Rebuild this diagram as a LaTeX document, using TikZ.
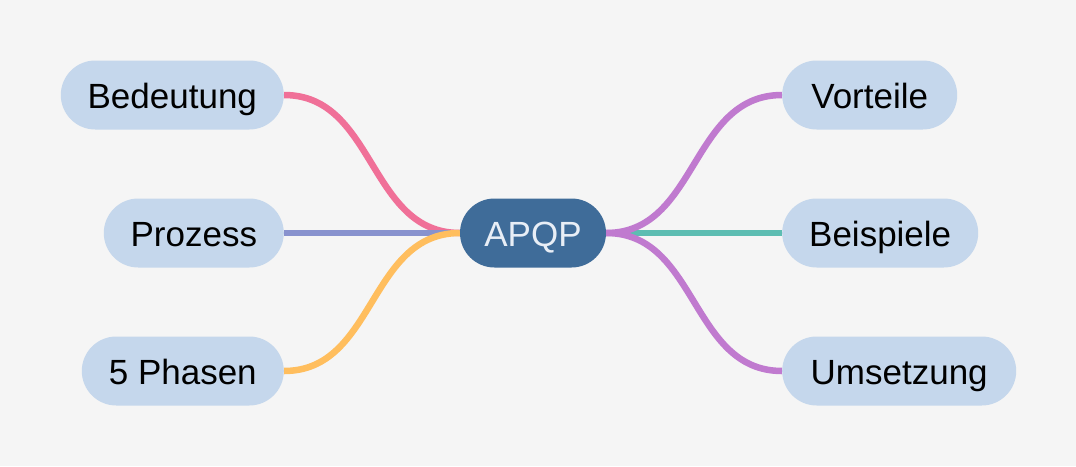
\documentclass[tikz,border=0pt]{standalone}
\usepackage{fontspec}
\setmainfont{Liberation Sans}
\usetikzlibrary{backgrounds}
\definecolor{bgc}{HTML}{F5F5F5}
\definecolor{leaf}{HTML}{C5D7EC}
\definecolor{rootc}{HTML}{3F6C99}
\definecolor{roottext}{HTML}{E8EEF6}
\definecolor{cpink}{HTML}{F07098}
\definecolor{clav}{HTML}{8892CE}
\definecolor{corange}{HTML}{FFBE5E}
\definecolor{cpurple}{HTML}{C07ACF}
\definecolor{cteal}{HTML}{5DBDB2}
\tikzset{
  leafbox/.style={fill=leaf, rounded corners=34.5pt, minimum height=69pt, inner sep=0pt,
    text height=26pt, text depth=0pt, font=\fontsize{35pt}{40pt}\selectfont, text=black},
  rootbox/.style={fill=rootc, rounded corners=34.5pt, minimum height=69pt, minimum width=146pt, inner sep=0pt,
    text height=26pt, text depth=0pt, font=\fontsize{35pt}{40pt}\selectfont, text=roottext},
  link/.style={line width=6.5pt, out=0, in=180, looseness=1.05},
}
\begin{document}
\begin{tikzpicture}[x=1pt,y=-1pt]
\useasboundingbox (0,0) rectangle (1076,466);
\node[rootbox] (root) at (533,233) {APQP};
\node[leafbox, minimum width=223pt, anchor=east] (bed) at (284,95) {Bedeutung};
\node[leafbox, minimum width=180pt, anchor=east] (pro) at (284,233) {Prozess};
\node[leafbox, minimum width=202pt, anchor=east] (pha) at (284,371) {5 Phasen};
\node[leafbox, minimum width=175pt, anchor=west] (vor) at (782,95) {Vorteile};
\node[leafbox, minimum width=196pt, anchor=west] (bei) at (782,233) {Beispiele};
\node[leafbox, minimum width=234pt, anchor=west] (ums) at (782,371) {Umsetzung};
\begin{scope}[on background layer]
\fill[bgc] (0,0) rectangle (1076,466);
\draw[link, cpink] (bed.east) to (root.west);
\draw[link, clav] (pro.east) -- (root.west);
\draw[link, corange] (pha.east) to (root.west);
\draw[link, cteal] (root.east) -- (bei.west);
\draw[link, cpurple] (root.east) to (vor.west);
\draw[link, cpurple] (root.east) to (ums.west);
\end{scope}
\end{tikzpicture}
\end{document}
